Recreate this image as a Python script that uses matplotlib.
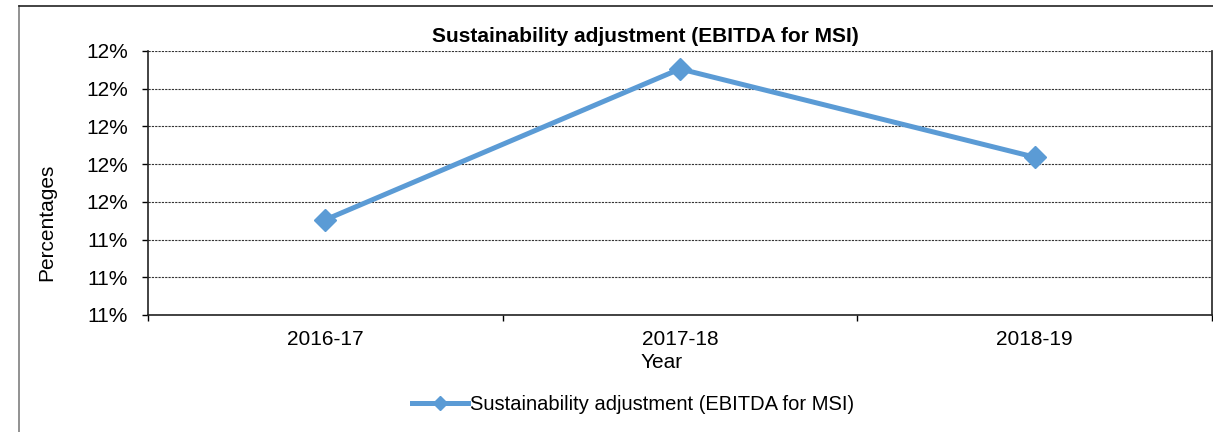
import matplotlib.pyplot as plt
from matplotlib.lines import Line2D
from matplotlib.ticker import FuncFormatter, FixedLocator

plt.rcParams['font.family'] = ['Liberation Sans', 'DejaVu Sans']

years = ['2016-17', '2017-18', '2018-19']
values = [11.505, 12.305, 11.837]
series_name = 'Sustainability adjustment (EBITDA for MSI)'
y_ticks = [11.0, 11.2, 11.4, 11.6, 11.8, 12.0, 12.2, 12.4]

blue = '#5B9BD5'
W, H = 1213, 432

fig = plt.figure(figsize=(W / 100, H / 100), dpi=100)
ax = fig.add_axes([148 / W, 1 - 315 / H, 1064 / W, 264 / H])

x = list(range(len(years)))
ax.plot(x, values, color=blue, linewidth=3.6, marker='D', markersize=11,
        label=series_name)

ax.set_xlim(-0.5, len(years) - 0.5)
ax.set_ylim(y_ticks[0], y_ticks[-1])
ax.set_yticks(y_ticks)
ax.yaxis.set_major_formatter(FuncFormatter(lambda v, p: '%.0f%%' % v))
ax.yaxis.grid(True, color='#333333', linestyle=(0, (2, 1)), linewidth=0.8)
ax.set_axisbelow(True)

# category ticks sit between the categories, labels centred on them
ax.xaxis.set_major_locator(FixedLocator([i - 0.5 for i in range(len(years) + 1)]))
ax.xaxis.set_minor_locator(FixedLocator(x))
ax.set_xticklabels([''] * (len(years) + 1))
ax.set_xticklabels(years, minor=True)
ax.tick_params(axis='x', which='major', length=4.5, width=1, direction='out')
ax.tick_params(axis='x', which='minor', length=0, pad=11, labelsize=15)
ax.tick_params(axis='y', length=4.5, width=1, direction='out', labelsize=15, pad=10)

for side in ['left', 'bottom', 'right']:
    ax.spines[side].set_color('#222222')
    ax.spines[side].set_linewidth(1.2)
ax.spines['top'].set_visible(False)

fig.text(662 / W, 1 - 362 / H, 'Year', ha='center', va='center', fontsize=15)
fig.text(47 / W, 1 - 222 / H, 'Percentages', ha='center', va='center',
         rotation=90, fontsize=15)
fig.text(645 / W, 1 - 37 / H, series_name, ha='center', va='center',
         fontsize=15, fontweight='bold')

handle = Line2D([], [], color=blue, linewidth=3.6, marker='D', markersize=7)
fig.legend([handle], [series_name], loc='center', bbox_to_anchor=(633 / W, 1 - 405 / H),
           frameon=False, fontsize=14.5, handlelength=2.8, handletextpad=0.1)

# chart area border
fig.add_artist(Line2D([19 / W, 19 / W], [0, 1 - 6 / H], color='#7f7f7f',
                      linewidth=1.2, transform=fig.transFigure))
fig.add_artist(Line2D([19 / W, 1], [1 - 6 / H, 1 - 6 / H], color='#222222',
                      linewidth=1.2, transform=fig.transFigure))

fig.savefig('out.png', dpi=100)
